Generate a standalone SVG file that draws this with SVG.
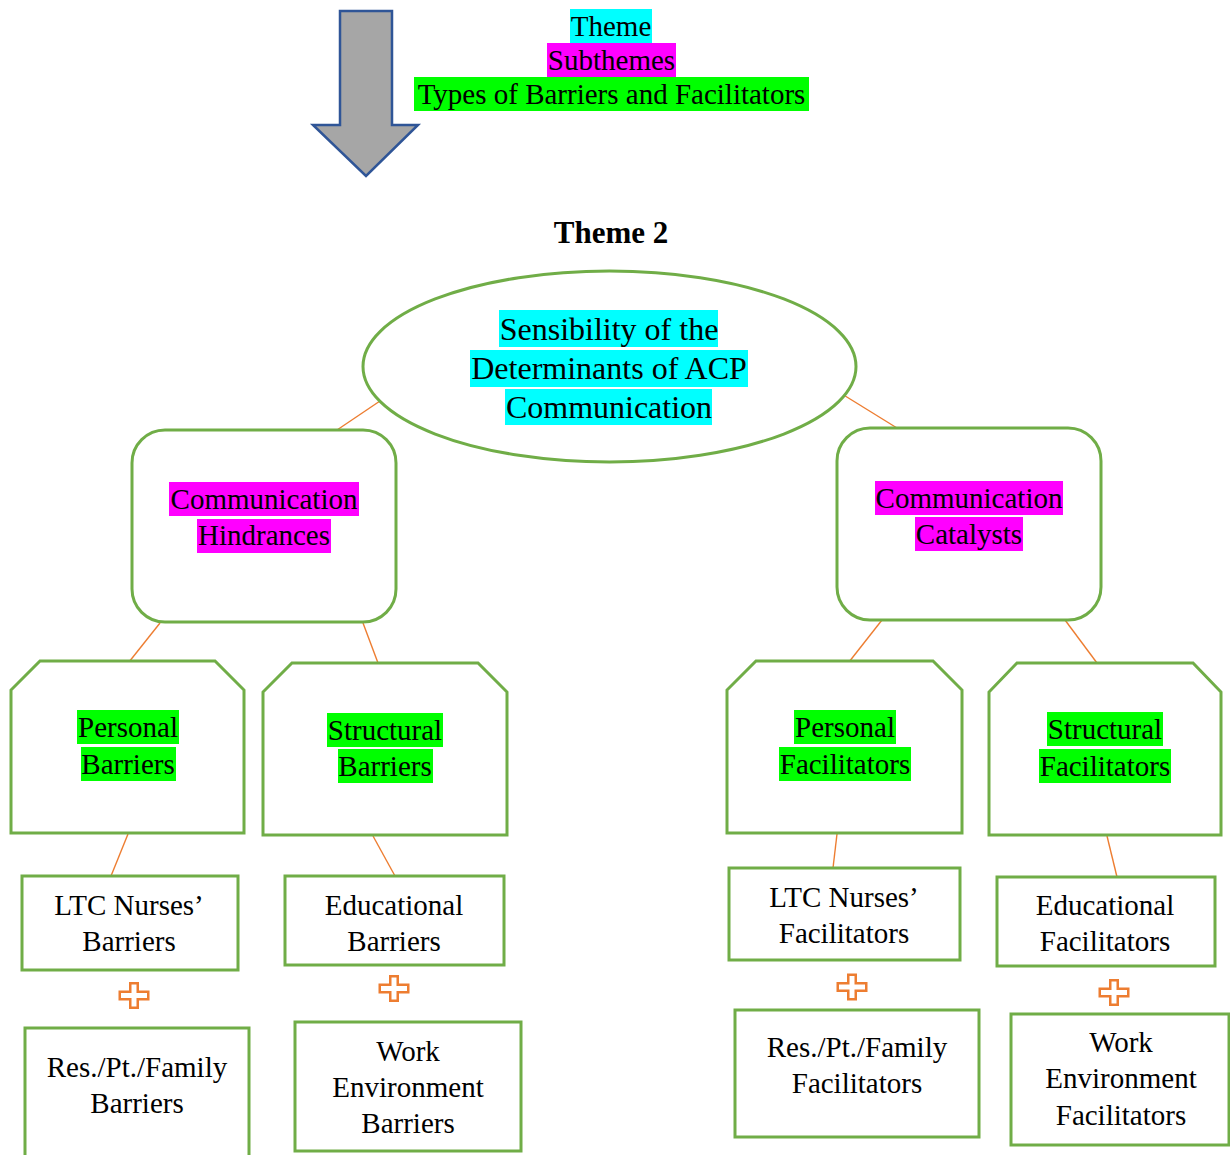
<svg xmlns="http://www.w3.org/2000/svg" width="1230" height="1155" viewBox="0 0 1230 1155">
<style>
text{font-family:"Liberation Serif","Times New Roman",serif;font-size:29px;fill:#000;text-anchor:middle}
.big{font-size:32px}
.bold{font-weight:bold;font-size:31px}
.node{fill:#fff;stroke:#70AD47;stroke-width:3}
.hc{fill:#00FFFF}
.hm{fill:#FF00FF}
.hg{fill:#00FF00}
.conn line{stroke:#ED7D31;stroke-width:1.4}
.plus{fill:#fff;stroke:#ED7D31;stroke-width:2.5}
</style>
<defs>
<path id="plus" d="M-3.75,-12.25H3.75V-3.75H14.25V3.75H3.75V12.25H-3.75V3.75H-14.25V-3.75H-3.75Z"/>
</defs>
<rect width="1230" height="1155" fill="#fff"/>

<g id="legend-arrow">
<path d="M340,11H392V125H418L366,176L313,125H340Z" fill="#A6A6A6" stroke="#2F5597" stroke-width="2.5" stroke-linejoin="miter"/>
</g>
<g id="legend">
<rect class="hc" x="570" y="9" width="82" height="34"/>
<text x="611" y="36">Theme</text>
<rect class="hm" x="547" y="43" width="129" height="34"/>
<text x="611.5" y="70">Subthemes</text>
<rect class="hg" x="414" y="77" width="395" height="34"/>
<text x="611.5" y="104">Types of Barriers and Facilitators</text>
</g>
<g id="title">
<text class="bold" x="611" y="243">Theme 2</text>
</g>

<g class="conn" id="connectors">
<line x1="380" y1="401" x2="337" y2="430"/>
<line x1="842" y1="394" x2="897" y2="428"/>
<line x1="160" y1="623" x2="129" y2="662"/>
<line x1="363" y1="623" x2="378" y2="663"/>
<line x1="882" y1="620" x2="849" y2="662"/>
<line x1="1065" y1="620" x2="1097" y2="663"/>
<line x1="128" y1="834" x2="111" y2="876"/>
<line x1="373" y1="836" x2="395" y2="876"/>
<line x1="837" y1="834" x2="833" y2="868"/>
<line x1="1107" y1="836" x2="1117" y2="877"/>
</g>

<g id="theme">
<ellipse class="node" cx="609.5" cy="366.5" rx="246.5" ry="95.5"/>
<rect class="hc" x="499" y="310" width="219" height="37"/>
<rect class="hc" x="470" y="350" width="278" height="37"/>
<rect class="hc" x="505" y="389" width="207" height="36"/>
<text class="big" x="609" y="340">Sensibility of the</text>
<text class="big" x="609" y="379">Determinants of ACP</text>
<text class="big" x="609" y="418">Communication</text>
</g>

<g id="hindrances">
<rect class="node" x="132" y="430" width="264" height="192" rx="33"/>
<rect class="hm" x="169" y="482" width="190" height="34"/>
<rect class="hm" x="197" y="519" width="134" height="34"/>
<text x="264" y="509">Communication</text>
<text x="264" y="545">Hindrances</text>
</g>

<g id="catalysts">
<rect class="node" x="837" y="428" width="264" height="192" rx="33"/>
<rect class="hm" x="875" y="481" width="188" height="34"/>
<rect class="hm" x="915" y="517" width="108" height="34"/>
<text x="969" y="508">Communication</text>
<text x="969" y="544">Catalysts</text>
</g>

<g id="personal-barriers">
<path class="node" d="M40,661H215L244,690V833H11V690Z"/>
<rect class="hg" x="77" y="710" width="102" height="34"/>
<rect class="hg" x="81" y="747" width="95" height="34"/>
<text x="128" y="737">Personal</text>
<text x="128" y="774">Barriers</text>
</g>

<g id="structural-barriers">
<path class="node" d="M292,663H478L507,692V835H263V692Z"/>
<rect class="hg" x="327" y="713" width="116" height="34"/>
<rect class="hg" x="338" y="749" width="95" height="34"/>
<text x="385" y="740">Structural</text>
<text x="385" y="776">Barriers</text>
</g>

<g id="personal-facilitators">
<path class="node" d="M756,661H933L962,690V833H727V690Z"/>
<rect class="hg" x="794" y="710" width="102" height="34"/>
<rect class="hg" x="779" y="747" width="132" height="34"/>
<text x="845" y="737">Personal</text>
<text x="845" y="774">Facilitators</text>
</g>

<g id="structural-facilitators">
<path class="node" d="M1017,663H1193L1221,692V835H989V692Z"/>
<rect class="hg" x="1047" y="712" width="116" height="34"/>
<rect class="hg" x="1039" y="749" width="132" height="34"/>
<text x="1105" y="739">Structural</text>
<text x="1105" y="776">Facilitators</text>
</g>

<g id="ltc-barriers">
<rect class="node" x="22" y="876" width="216" height="94"/>
<text x="129" y="915">LTC Nurses’</text>
<text x="129" y="951">Barriers</text>
</g>
<g id="educational-barriers">
<rect class="node" x="285" y="876" width="219" height="89"/>
<text x="394" y="915">Educational</text>
<text x="394" y="951">Barriers</text>
</g>
<g id="ltc-facilitators">
<rect class="node" x="729" y="868" width="231" height="92"/>
<text x="844" y="907">LTC Nurses’</text>
<text x="844" y="943">Facilitators</text>
</g>
<g id="educational-facilitators">
<rect class="node" x="997" y="877" width="218" height="89"/>
<text x="1105" y="915">Educational</text>
<text x="1105" y="951">Facilitators</text>
</g>

<g id="plus-signs">
<use href="#plus" class="plus" x="134" y="995.5"/>
<use href="#plus" class="plus" x="394" y="988.5"/>
<use href="#plus" class="plus" x="852" y="987"/>
<use href="#plus" class="plus" x="1114" y="992.5"/>
</g>

<g id="res-barriers">
<rect class="node" x="25" y="1028" width="224" height="140"/>
<text x="137" y="1077">Res./Pt./Family</text>
<text x="137" y="1113">Barriers</text>
</g>
<g id="work-barriers">
<rect class="node" x="295" y="1022" width="226" height="129"/>
<text x="408" y="1061">Work</text>
<text x="408" y="1097">Environment</text>
<text x="408" y="1133">Barriers</text>
</g>
<g id="res-facilitators">
<rect class="node" x="735" y="1010" width="244" height="127"/>
<text x="857" y="1057">Res./Pt./Family</text>
<text x="857" y="1093">Facilitators</text>
</g>
<g id="work-facilitators">
<rect class="node" x="1011" y="1014" width="218" height="131"/>
<text x="1121" y="1052">Work</text>
<text x="1121" y="1088">Environment</text>
<text x="1121" y="1125">Facilitators</text>
</g>
</svg>
